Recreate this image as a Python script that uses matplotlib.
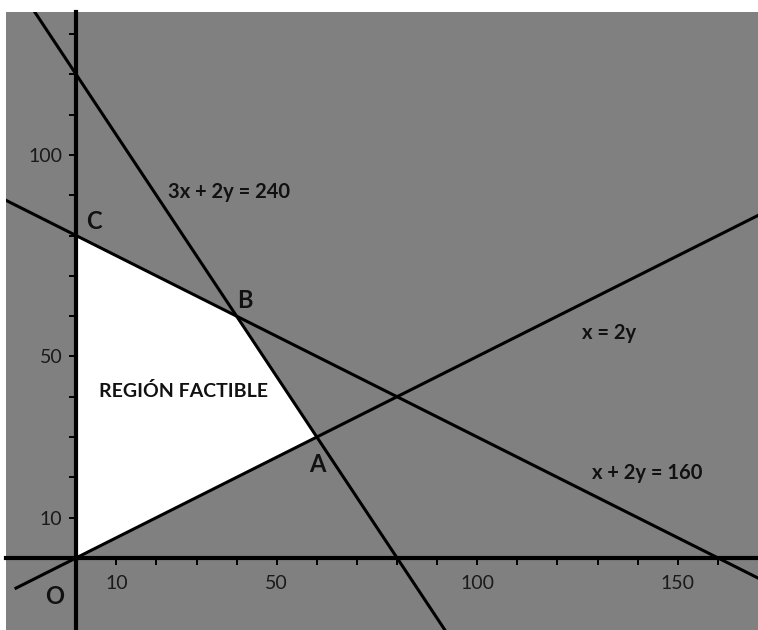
import numpy as np
import matplotlib
matplotlib.use("Agg")
import matplotlib.pyplot as plt
from matplotlib.ticker import FixedLocator, NullFormatter, FixedFormatter

plt.rcParams['font.family'] = ['Lato', 'DejaVu Sans']

# feasible region vertices: O, A, B, C
region_x = [0, 60, 40, 0]
region_y = [0, 30, 60, 80]

# constraint lines, drawn over these x ranges
line_3x2y_x = [-20, 100]      # 3x + 2y = 240
line_x2y_x = [-15, 175]       # x = 2y
line_x2y160_x = [-20, 175]    # x + 2y = 160

x_labels = [10, 50, 100, 150]
y_labels = [10, 50, 100]
x_minor = list(range(10, 170, 10))
y_minor = list(range(10, 140, 10))

vertex_names = ["O", "A", "B", "C"]
vertex_text_pos = [(-5.4, -9.6), (60.0, 23.1), (42.1, 63.8), (4.5, 83.4)]

GRAY = "#808080"

fig = plt.figure(figsize=(7.58, 6.30), dpi=100)
ax = fig.add_axes([6 / 758, 0, 752 / 758, 618 / 630])
ax.set_facecolor(GRAY)
ax.set_xlim(-17.5, 170)
ax.set_ylim(-17.9, 135.5)

ax.fill(region_x, region_y, color="white", zorder=1)

xs = np.array(line_3x2y_x, dtype=float)
ax.plot(xs, (240 - 3 * xs) / 2, color="black", lw=2.2, zorder=3)
xs = np.array(line_x2y_x, dtype=float)
ax.plot(xs, xs / 2, color="black", lw=2.2, zorder=3)
xs = np.array(line_x2y160_x, dtype=float)
ax.plot(xs, (160 - xs) / 2, color="black", lw=2.2, zorder=3)

# axes through the origin
for side in ("top", "right"):
    ax.spines[side].set_visible(False)
ax.spines["left"].set_position(("data", 0))
ax.spines["bottom"].set_position(("data", 0))
for side in ("left", "bottom"):
    ax.spines[side].set_linewidth(3)
    ax.spines[side].set_color("black")
    ax.spines[side].set_zorder(4)

ax.xaxis.set_major_locator(FixedLocator(x_labels))
ax.xaxis.set_major_formatter(FixedFormatter([str(v) for v in x_labels]))
ax.xaxis.set_minor_locator(FixedLocator(x_minor))
ax.yaxis.set_major_locator(FixedLocator(y_labels))
ax.yaxis.set_major_formatter(FixedFormatter([str(v) for v in y_labels]))
ax.yaxis.set_minor_locator(FixedLocator(y_minor))
ax.xaxis.set_minor_formatter(NullFormatter())
ax.yaxis.set_minor_formatter(NullFormatter())
ax.tick_params(which="both", direction="out", length=5, width=1.4, color="black")
ax.tick_params(axis="x", which="major", pad=7, labelsize=14, labelcolor="#1a1a1a")
ax.tick_params(axis="y", which="major", pad=5, labelsize=14, labelcolor="#1a1a1a")

txt = dict(fontweight="bold", color="#111111", ha="center", va="center", zorder=5)
for name, (tx, ty) in zip(vertex_names, vertex_text_pos):
    ax.text(tx, ty, name, fontsize=17, **txt)

ax.text(38.2, 90.8, "3x + 2y = 240", fontsize=14.5, **txt)
ax.text(132.9, 55.8, "x = 2y", fontsize=14.5, **txt)
ax.text(142.4, 21.0, "x + 2y = 160", fontsize=14.5, **txt)
ax.text(26.7, 41.4, "REGIÓN FACTIBLE", fontsize=14, **txt)

fig.savefig("out.png", dpi=100)
